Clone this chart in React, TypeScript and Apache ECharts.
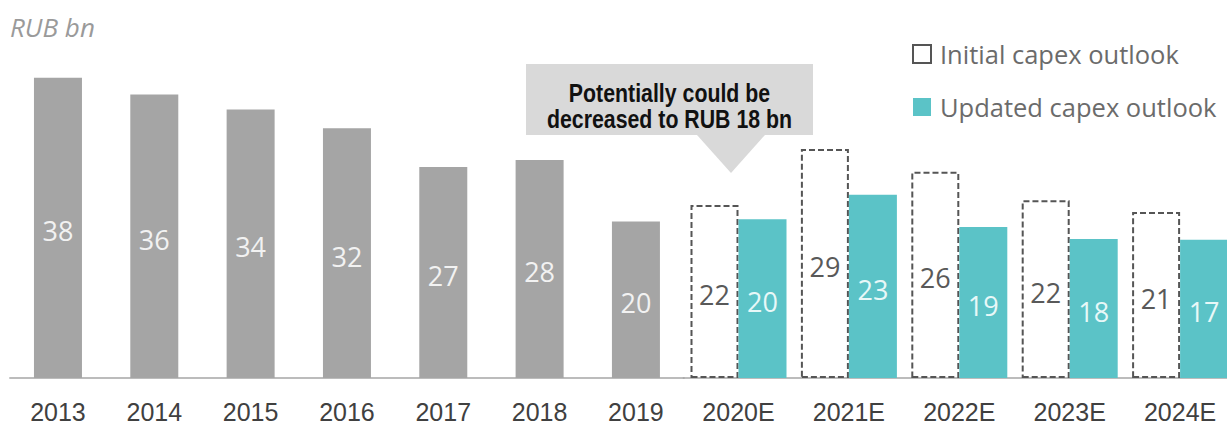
import React, { useEffect, useRef } from "react";
import * as echarts from "echarts";

const actualYears = ["2013", "2014", "2015", "2016", "2017", "2018", "2019"];
const actualValues = [38.0, 35.9, 34.0, 31.6, 26.7, 27.6, 19.8];
const actualLabels = ["38", "36", "34", "32", "27", "28", "20"];

const outlookYears = ["2020E", "2021E", "2022E", "2023E", "2024E"];
const initialValues = [21.9, 29.0, 26.1, 22.5, 21.0];
const initialLabels = ["22", "29", "26", "22", "21"];
const updatedValues = [20.1, 23.2, 19.1, 17.6, 17.5];
const updatedLabels = ["20", "23", "19", "18", "17"];

const SANS = "'Liberation Sans', Arial, sans-serif";
const OPEN = "'Open Sans', sans-serif";

export default function App() {
  const ref = useRef<HTMLDivElement>(null);
  useEffect(() => {
    document.body.style.margin = "0";
    document.body.style.overflow = "hidden";
    document.documentElement.style.overflow = "hidden";
    if (!ref.current) return;
    const chart = echarts.init(ref.current, undefined, { renderer: "svg" });
    const axisCommon = {
      type: "category" as const,
      axisTick: { show: false },
      axisLine: { lineStyle: { color: "#a6a6a6", width: 1.5 } },
      axisLabel: {
        fontFamily: SANS,
        fontSize: 25,
        color: "#404040",
        margin: 21,
      },
    };
    const yCommon = {
      type: "value" as const,
      min: 0,
      max: 40,
      show: false,
      splitLine: { show: false },
    };
    const barLabel = (labels: string[], color: string) => ({
      show: true,
      position: "inside",
      offset: [0, 3],
      fontFamily: OPEN,
      fontSize: 27,
      color,
      formatter: (p: any) => labels[p.dataIndex],
    });
    chart.setOption({
      animation: false,
      grid: [
        { left: 9.8, top: 62, width: 674.3, height: 316 },
        { left: 683.3, top: 62, width: 552, height: 316 },
      ],
      xAxis: [
        { ...axisCommon, gridIndex: 0, data: actualYears },
        { ...axisCommon, gridIndex: 1, data: outlookYears },
      ],
      yAxis: [
        { ...yCommon, gridIndex: 0 },
        { ...yCommon, gridIndex: 1 },
      ],
      legend: {
        orient: "vertical",
        left: 912,
        top: 41,
        padding: 0,
        itemWidth: 18,
        itemHeight: 18,
        itemGap: 27,
        icon: "rect",
        data: ["Initial capex outlook", "Updated capex outlook"],
        textStyle: {
          fontFamily: OPEN,
          fontSize: 25.5,
          color: "#6b6b6b",
          padding: [0, 0, 0, 4],
        },
      },
      series: [
        {
          name: "Actual",
          type: "bar",
          xAxisIndex: 0,
          yAxisIndex: 0,
          barWidth: 48,
          data: actualValues,
          itemStyle: { color: "#a5a5a5" },
          label: barLabel(actualLabels, "#f2f2f2"),
        },
        {
          name: "Initial capex outlook",
          type: "bar",
          xAxisIndex: 1,
          yAxisIndex: 1,
          barWidth: 48,
          barGap: "0%",
          data: initialValues,
          itemStyle: {
            color: "#ffffff",
            borderColor: "#555555",
            borderWidth: 2,
            borderType: [6, 3],
          },
          label: barLabel(initialLabels, "#595959"),
        },
        {
          name: "Updated capex outlook",
          type: "bar",
          xAxisIndex: 1,
          yAxisIndex: 1,
          barWidth: 48,
          barGap: "0%",
          data: updatedValues,
          itemStyle: { color: "#5bc3c7" },
          label: barLabel(updatedLabels, "#e8f8f8"),
        },
      ],
      graphic: [
        {
          type: "text",
          left: 10,
          top: 14,
          style: {
            text: "RUB bn",
            fontFamily: OPEN,
            fontStyle: "italic",
            fontSize: 26,
            fill: "#9a9a9a",
          },
        },
        {
          type: "rect",
          shape: { x: 526, y: 64, width: 287, height: 71 },
          style: { fill: "#d9d9d9" },
        },
        {
          type: "polygon",
          shape: { points: [[697, 135], [765, 135], [731, 173]] },
          style: { fill: "#d9d9d9" },
        },
        {
          type: "text",
          x: 669.5,
          y: 105.5,
          scaleX: 0.82,
          style: {
            text: "Potentially could be\ndecreased to RUB 18 bn",
            fontFamily: SANS,
            fontWeight: "bold",
            fontSize: 26,
            lineHeight: 26,
            align: "center",
            verticalAlign: "middle",
            fill: "#111111",
          },
        },
      ],
    });
    return () => chart.dispose();
  }, []);
  return <div ref={ref} style={{ width: 1240, height: 425 }} />;
}
